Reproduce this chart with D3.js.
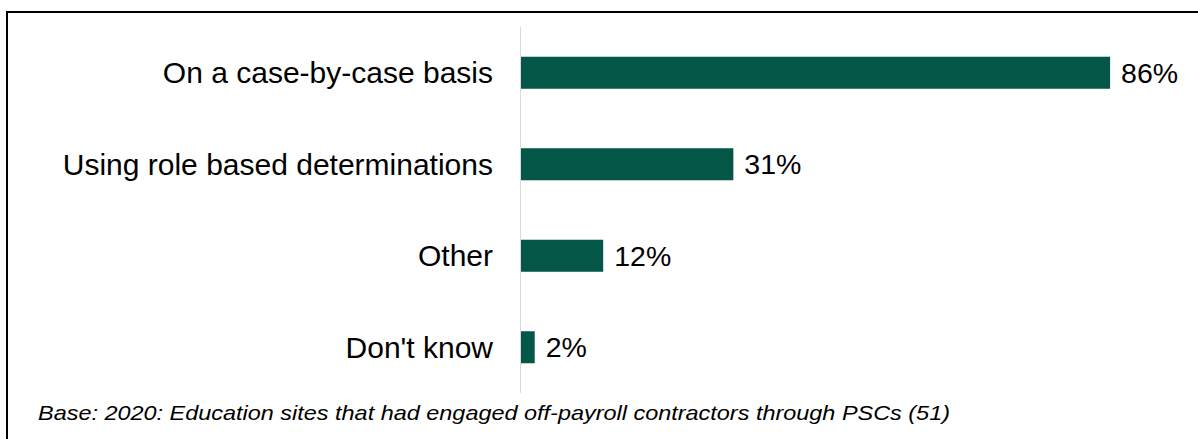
<!DOCTYPE html>
<html>
<head>
<meta charset="utf-8">
<script src="https://cdn.jsdelivr.net/npm/d3@7"></script>
<style>
  html, body { margin: 0; padding: 0; background: #fff; overflow: hidden; }
  svg { display: block; font-family: Arial, "Liberation Sans", sans-serif; }
</style>
</head>
<body>
<svg id="chart" width="1198" height="439"></svg>
<script>
// Survey responses: how off-payroll status was determined
const categories = [
  "On a case-by-case basis",
  "Using role based determinations",
  "Other",
  "Don't know"
];
const values = [86, 31, 12, 2];
const valueLabels = ["86%", "31%", "12%", "2%"];
const footnote = "Base: 2020: Education sites that had engaged off-payroll contractors through PSCs (51)";

const W = 1198, H = 439;
const svg = d3.select("#chart");

// outer frame (runs off the right and bottom edges)
svg.append("rect")
  .attr("x", 7).attr("y", 12)
  .attr("width", 1210).attr("height", 450)
  .attr("fill", "none")
  .attr("stroke", "#000")
  .attr("stroke-width", 2);

const x = d3.scaleLinear().domain([0, 100]).range([521, 1206]);
const y = d3.scaleBand()
  .domain(categories)
  .range([27, 393])
  .paddingInner(0.65)
  .paddingOuter(0.325);

// category axis line
svg.append("line")
  .attr("x1", 520.5).attr("x2", 520.5)
  .attr("y1", y.range()[0]).attr("y2", y.range()[1])
  .attr("stroke", "#d9d9d9")
  .attr("stroke-width", 1);

// bars
svg.append("g").selectAll("rect")
  .data(values)
  .join("rect")
  .attr("x", x(0))
  .attr("y", (d, i) => y(categories[i]))
  .attr("width", d => x(d) - x(0))
  .attr("height", y.bandwidth())
  .attr("fill", "#045746");

// category labels
svg.append("g").selectAll("text")
  .data(categories)
  .join("text")
  .attr("x", 493)
  .attr("y", d => y(d) + y.bandwidth() / 2)
  .attr("dy", "0.35em")
  .attr("text-anchor", "end")
  .attr("font-size", 30)
  .attr("fill", "#000")
  .text(d => d);

// value labels
svg.append("g").selectAll("text")
  .data(values)
  .join("text")
  .attr("x", d => x(d) + 11)
  .attr("y", (d, i) => y(categories[i]) + y.bandwidth() / 2)
  .attr("dy", "0.35em")
  .attr("font-size", 28.5)
  .attr("fill", "#000")
  .text((d, i) => valueLabels[i]);

// base note
svg.append("text")
  .attr("x", 38)
  .attr("y", 420)
  .attr("font-size", 21)
  .attr("font-style", "italic")
  .attr("fill", "#000")
  .attr("textLength", 912)
  .attr("lengthAdjust", "spacingAndGlyphs")
  .text(footnote);
</script>
</body>
</html>
